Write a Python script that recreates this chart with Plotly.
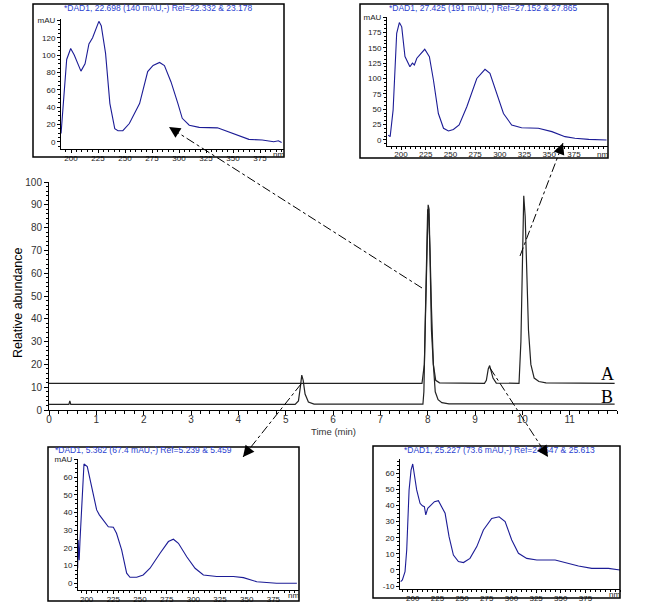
import plotly.graph_objects as go

W, H = 651, 608

# main chromatogram, trace A (upper) and trace B (lower)
time_a = [0, 7.88, 7.93, 7.97, 7.99, 8.01, 8.03, 8.05, 8.08, 8.12, 8.17, 8.25,
          9.2, 9.24, 9.28, 9.31, 9.34, 9.38, 9.45,
          9.93, 9.97, 10.0, 10.03, 10.06, 10.09, 10.13, 10.18, 10.25, 10.35, 10.5, 11.95]
abund_a = [11.7, 11.7, 20, 55, 85, 90, 88, 60, 35, 20, 13, 11.9,
           11.7, 13, 18, 19.5, 17, 14, 11.8,
           11.7, 30, 70, 94, 85, 60, 35, 20, 14, 12.5, 11.9, 11.7]

time_b = [0, 0.42, 0.44, 0.46, 5.2, 5.27, 5.31, 5.34, 5.37, 5.41, 5.48, 5.6,
          7.9, 7.92, 7.95, 7.98, 8.0, 8.02, 8.05, 8.08, 8.12, 8.16, 8.22, 8.3, 8.45, 11.95]
abund_b = [2.5, 2.5, 4, 2.5, 2.5, 4, 10, 15.3, 13, 7, 3.5, 2.6,
           2.6, 8, 40, 80, 88, 86, 70, 45, 20, 8, 4.5, 3.2, 2.7, 2.6]

# UV spectra (nm, mAU)
nm_1 = [190.8, 193, 196, 199.7, 203, 209.2, 213, 216.6, 220, 225.8, 228, 232, 236, 240.5,
        243.5, 248, 254, 263.5, 271, 276, 282, 286.5, 292.6, 299, 303, 309.5, 318.7, 335.6,
        346, 355.5, 364.7, 377, 387.7, 392, 395]
mau_1 = [9.6, 45, 95, 107.7, 100, 81.5, 90, 113, 120, 139, 134, 102, 44, 15,
         12.7, 12.7, 21, 44, 81, 88, 91.5, 88, 69, 44, 27, 19, 16.5, 16,
         11.5, 6.5, 2.7, 2, 0, 1, -1]

nm_2 = [187, 189, 192, 195.6, 198.3, 200.7, 204, 209, 211.5, 213.5, 216, 224, 228.7, 232.8,
        237.8, 243, 248, 253, 258.8, 266.6, 276.7, 285, 290, 298.6, 303.7, 312, 322, 339,
        352.7, 366, 376, 390, 408]
mau_2 = [8, 5.4, 49, 173.5, 191, 184, 135.6, 119, 125, 122, 133, 147.5, 135.6, 97.6,
         43, 19, 14.6, 17, 24.4, 54, 100, 115, 108.5, 65, 43, 24.4, 20, 19,
         13.6, 5.4, 2.7, 1, 0]

nm_3 = [190.6, 191.6, 192, 193, 193.8, 195.3, 197.5, 200.6, 204.7, 209.4, 211.9, 215.6,
        220.3, 225, 228, 232.8, 237.5, 240.6, 246.9, 253, 259.4, 268.8, 276.6, 281.3, 286,
        293.8, 301.6, 309.4, 321.9, 337.5, 346.9, 359.4, 378, 397]
mau_3 = [49, 8.5, 24.5, 13, 24.5, 43, 67.5, 66, 54.7, 41.5, 38.7, 35.8,
         32, 31.7, 28.3, 18.9, 5.7, 3.4, 3.4, 4.7, 8.5, 17, 23.6, 24.9, 22.6,
         15, 8.5, 4.7, 3.8, 3.8, 3.2, 0.9, 0, 0]

nm_4 = [187.8, 189.5, 192.2, 193.9, 196.3, 198.3, 200, 201.7, 204, 207.4, 209.8, 211.8,
        213.2, 215.2, 218.6, 222, 226, 229.4, 232.8, 236.8, 241.2, 246.3, 251.4, 258, 264.9,
        271.6, 280, 287.5, 293.6, 300.3, 307.1, 315.5, 325.7, 344.3, 354.4, 367.9, 381.4,
        398.3, 410]
mau_4 = [-7.2, -6.2, -1, 12.4, 49.7, 62, 65.8, 60, 49.7, 41.4, 39.8, 39.3,
         34.2, 38.3, 40.4, 42.4, 43, 39.3, 35.2, 20.7, 9.3, 5.2, 4.6, 7.2, 14.5,
         24.8, 32, 33, 30, 18.6, 10.4, 7.2, 6.2, 6.2, 4.6, 2.5, 1,
         1, 0]

inset_titles = [
    "*DAD1, 22.698 (140 mAU,-) Ref=22.332 & 23.178",
    "*DAD1, 27.425 (191 mAU,-) Ref=27.152 & 27.865",
    "*DAD1, 5.362 (67.4 mAU,-) Ref=5.239 & 5.459",
    "*DAD1, 25.227 (73.6 mAU,-) Ref=24.647 & 25.613",
]
nm_ticks = [200, 225, 250, 275, 300, 325, 350, 375]


def px(x):
    return x / W


def py(y):
    return 1 - y / H


SPEC = '#1c1c96'
TITLE_BLUE = '#2b3fd0'

fig = go.Figure()

fig.add_trace(go.Scatter(x=time_a, y=abund_a, mode='lines', xaxis='x', yaxis='y',
                         line=dict(color='#222222', width=1.2), showlegend=False))
fig.add_trace(go.Scatter(x=time_b, y=abund_b, mode='lines', xaxis='x', yaxis='y',
                         line=dict(color='#222222', width=1.2), showlegend=False))

# inset placement in pixels: (plot left, plot right, plot top, plot bottom), ranges, frame
insets = [
    dict(spec=(nm_1, mau_1), box=(61, 284, 19, 149), xr=[190.74, 397.2], yr=[-8.43, 141.7],
         yt=[0, 20, 40, 60, 80, 100, 120, 140], frame=(33, 284, 4, 157), title=(62, 8), nm=(278, 154)),
    dict(spec=(nm_2, mau_2), box=(387, 608, 17, 145.7), xr=[185.8, 409.5], yr=[-9.3, 200],
         yt=[0, 25, 50, 75, 100, 125, 150, 175, 200], frame=(360, 608, 4, 158), title=(387, 8), nm=(602, 154)),
    dict(spec=(nm_3, mau_3), box=(78, 299, 459, 590), xr=[191.9, 399], yr=[-3.8, 70.3],
         yt=[0, 10, 20, 30, 40, 50, 60, 70], frame=(48, 299, 447, 601), title=(53, 450), nm=(293, 595)),
    dict(spec=(nm_4, mau_4), box=(400, 620, 459, 589), xr=[187.1, 410], yr=[-11.8, 68.9],
         yt=[-10, 0, 10, 20, 30, 40, 50, 60, 70], frame=(373, 620, 446, 598), title=(402, 450), nm=(614, 594)),
]

axis_font = dict(family='Liberation Sans, Arial', size=8, color='#222222')
layout_axes = {}
annotations = []
shapes = []

for i, ins in enumerate(insets):
    n = i + 2
    l, r, t, b = ins['box']
    fig.add_trace(go.Scatter(x=ins['spec'][0], y=ins['spec'][1], mode='lines',
                             xaxis='x%d' % n, yaxis='y%d' % n,
                             line=dict(color=SPEC, width=1.1), showlegend=False))
    ytext = [str(v) for v in ins['yt'][:-1]] + ['mAU']
    layout_axes['xaxis%d' % n] = dict(
        domain=[px(l), px(r)], range=ins['xr'], anchor='y%d' % n, automargin=False,
        showline=True, linecolor='black', linewidth=1, showgrid=False, zeroline=False,
        ticks='outside', ticklen=3, tickcolor='black', tickvals=nm_ticks, tickfont=axis_font,
        ticklabelstandoff=-2,
        minor=dict(ticks='outside', ticklen=2, dtick=5, tickcolor='black'))
    layout_axes['yaxis%d' % n] = dict(
        domain=[py(b), py(t)], range=ins['yr'], anchor='x%d' % n, automargin=False,
        showline=True, linecolor='black', linewidth=1, showgrid=False, zeroline=False,
        ticks='outside', ticklen=3, tickcolor='black', tickvals=ins['yt'], ticktext=ytext,
        tickfont=axis_font,
        minor=dict(ticks='outside', ticklen=2, dtick=(ins['yt'][1] - ins['yt'][0]) / 4,
                   tickcolor='black'))
    fl, fr, ft, fb = ins['frame']
    shapes.append(dict(type='rect', xref='paper', yref='paper', x0=px(fl), x1=px(fr),
                       y0=py(fb), y1=py(ft), line=dict(color='black', width=1.5)))
    annotations.append(dict(text=inset_titles[i], xref='paper', yref='paper',
                            x=px(ins['title'][0]), y=py(ins['title'][1]), xanchor='left',
                            yanchor='middle', showarrow=False,
                            font=dict(family='Liberation Sans, Arial', size=8.5, color=TITLE_BLUE)))
    annotations.append(dict(text='nm', xref='paper', yref='paper', x=px(ins['nm'][0]),
                            y=py(ins['nm'][1]), xanchor='center', yanchor='middle',
                            showarrow=False, font=axis_font))

# dash-dot pointers: (start px, tip px)
pointers = [((422, 288), (169, 127)),
            ((520, 256), (563, 143)),
            ((301, 384), (243, 457)),
            ((490, 368), (548, 457))]
for (x0, y0), (x1, y1) in pointers:
    shapes.append(dict(type='line', xref='paper', yref='paper', x0=px(x0), y0=py(y0),
                       x1=px(x1), y1=py(y1), line=dict(color='black', width=1, dash='dashdot')))
    dx, dy = x0 - x1, y0 - y1
    d = (dx ** 2 + dy ** 2) ** 0.5
    annotations.append(dict(text='', xref='paper', yref='paper', x=px(x1), y=py(y1),
                            ax=dx / d * 10, ay=dy / d * 10, showarrow=True, arrowhead=2,
                            arrowsize=1.6, arrowwidth=1.4, arrowcolor='black'))

# trace labels
for lab, ypix in [('A', 374), ('B', 397)]:
    annotations.append(dict(text=lab, xref='paper', yref='paper', x=px(607), y=py(ypix),
                            xanchor='center', yanchor='middle', showarrow=False,
                            font=dict(family='Liberation Serif, Times New Roman', size=18,
                                      color='black')))

# axis titles of the chromatogram
annotations.append(dict(text='Relative abundance', xref='paper', yref='paper', x=px(18),
                        y=py(303), textangle=-90, showarrow=False, xanchor='center',
                        yanchor='middle',
                        font=dict(family='Liberation Sans, Arial', size=12.5, color='black')))
annotations.append(dict(text='Time (min)', xref='paper', yref='paper', x=px(333),
                        y=py(431), showarrow=False, xanchor='center', yanchor='middle',
                        font=dict(family='Liberation Sans, Arial', size=9.5, color='#333333')))

main_font = dict(family='Liberation Sans, Arial', size=10, color='#333333')

fig.update_layout(
    width=W, height=H,
    margin=dict(l=0, r=0, t=0, b=0),
    paper_bgcolor='white', plot_bgcolor='rgba(0,0,0,0)',
    xaxis=dict(domain=[px(49), px(617)], range=[0, 12], anchor='y', automargin=False,
               showline=True, linecolor='black', linewidth=1, showgrid=False, zeroline=False,
               ticks='outside', ticklen=4, tickcolor='black', tickfont=main_font,
               tickvals=list(range(0, 12)), ticklabelstandoff=-4,
               minor=dict(ticks='outside', ticklen=3, dtick=0.2, tickcolor='black')),
    yaxis=dict(domain=[py(410), py(182)], range=[0, 100], anchor='x', automargin=False,
               showline=True, linecolor='black', linewidth=1, showgrid=False, zeroline=False,
               ticks='outside', ticklen=4, tickcolor='black', dtick=10, tickfont=main_font,
               minor=dict(ticks='outside', ticklen=2, dtick=2, tickcolor='black')),
    shapes=shapes,
    annotations=annotations,
    **layout_axes,
)

fig.write_html("out.html", config={'displayModeBar': False},
               post_script="document.body.style.margin='0';document.body.style.overflow='hidden';")
